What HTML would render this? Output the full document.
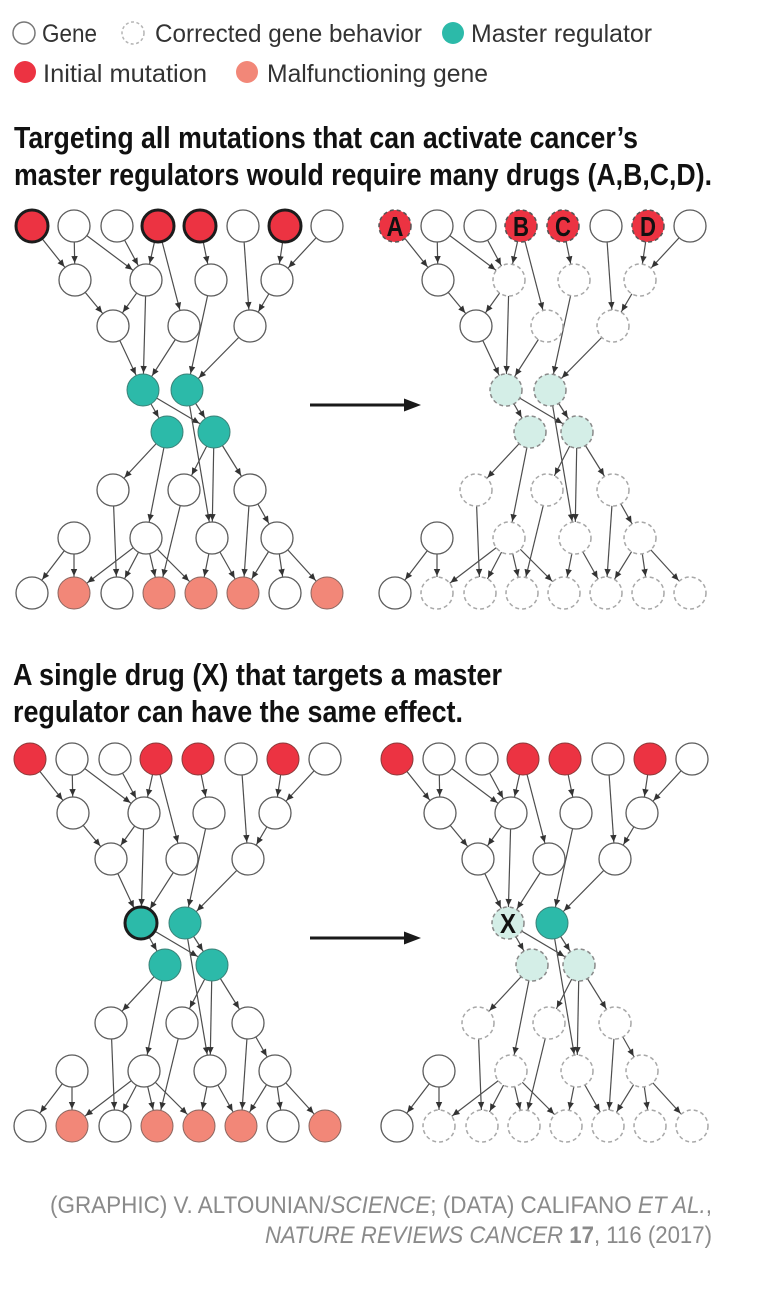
<!DOCTYPE html>
<html><head><meta charset="utf-8"><style>
html,body{margin:0;padding:0;background:#fff}
svg{display:block}
.w{fill:#fff;stroke:#5c5c5c;stroke-width:1.3}
.r{fill:#ec3342;stroke:#1c1c1c;stroke-width:3}
.r2{fill:#ec3342;stroke:#8a3a3a;stroke-width:1}
.t{fill:#2cbaa9;stroke:#3b8177;stroke-width:1}
.tk{fill:#2cbaa9;stroke:#1c1c1c;stroke-width:3}
.s{fill:#f28778;stroke:#8a6660;stroke-width:1}
.d{fill:#fff;stroke:#a8a8a8;stroke-width:1.5;stroke-dasharray:4 3}
.dr{fill:#ec3342;stroke:#555;stroke-width:1.5;stroke-dasharray:4 3}
.dt{fill:#d4eee7;stroke:#8a8a8a;stroke-width:1.5;stroke-dasharray:4 3}
.e line{stroke:#4d4d4d;stroke-width:1.2;marker-end:url(#ah)}
.lg{font-family:"Liberation Sans",sans-serif;font-size:25px;fill:#333}
.ti{font-family:"Liberation Sans",sans-serif;font-size:31px;font-weight:bold;fill:#111}
.ft{font-family:"Liberation Sans",sans-serif;font-size:24px;fill:#8a8a8a}
.lb{font-family:"Liberation Sans",sans-serif;font-size:28px;font-weight:bold;fill:#111}
</style></head><body>
<svg width="761" height="1291" viewBox="0 0 761 1291" xmlns="http://www.w3.org/2000/svg">
<defs>
<marker id="ah" viewBox="-30 -10 60 20" refX="0" refY="0" markerWidth="60" markerHeight="20" markerUnits="userSpaceOnUse" orient="auto"><path d="M-17,0 L-24,-3.2 L-24,3.2 Z" fill="#333"/></marker>
<g id="edges" class="e">
<line x1="32" y1="226" x2="75" y2="280"/>
<line x1="74" y1="226" x2="75" y2="280"/>
<line x1="74" y1="226" x2="146" y2="280"/>
<line x1="117" y1="226" x2="146" y2="280"/>
<line x1="158" y1="226" x2="146" y2="280"/>
<line x1="158" y1="226" x2="184" y2="326"/>
<line x1="200" y1="226" x2="211" y2="280"/>
<line x1="243" y1="226" x2="250" y2="326"/>
<line x1="285" y1="226" x2="277" y2="280"/>
<line x1="327" y1="226" x2="277" y2="280"/>
<line x1="75" y1="280" x2="113" y2="326"/>
<line x1="146" y1="280" x2="113" y2="326"/>
<line x1="146" y1="280" x2="143" y2="390"/>
<line x1="211" y1="280" x2="187" y2="390"/>
<line x1="277" y1="280" x2="250" y2="326"/>
<line x1="113" y1="326" x2="143" y2="390"/>
<line x1="184" y1="326" x2="143" y2="390"/>
<line x1="250" y1="326" x2="187" y2="390"/>
<line x1="143" y1="390" x2="167" y2="432"/>
<line x1="143" y1="390" x2="214" y2="432"/>
<line x1="187" y1="390" x2="214" y2="432"/>
<line x1="187" y1="390" x2="212" y2="538"/>
<line x1="167" y1="432" x2="113" y2="490"/>
<line x1="167" y1="432" x2="146" y2="538"/>
<line x1="214" y1="432" x2="184" y2="490"/>
<line x1="214" y1="432" x2="212" y2="538"/>
<line x1="214" y1="432" x2="250" y2="490"/>
<line x1="113" y1="490" x2="117" y2="593"/>
<line x1="184" y1="490" x2="159" y2="593"/>
<line x1="250" y1="490" x2="277" y2="538"/>
<line x1="250" y1="490" x2="243" y2="593"/>
<line x1="74" y1="538" x2="32" y2="593"/>
<line x1="74" y1="538" x2="74" y2="593"/>
<line x1="146" y1="538" x2="74" y2="593"/>
<line x1="146" y1="538" x2="117" y2="593"/>
<line x1="146" y1="538" x2="159" y2="593"/>
<line x1="146" y1="538" x2="201" y2="593"/>
<line x1="212" y1="538" x2="201" y2="593"/>
<line x1="212" y1="538" x2="243" y2="593"/>
<line x1="277" y1="538" x2="243" y2="593"/>
<line x1="277" y1="538" x2="285" y2="593"/>
<line x1="277" y1="538" x2="327" y2="593"/>
</g>
</defs>

<!-- Legend -->
<circle cx="24" cy="33" r="11" fill="#fff" stroke="#777" stroke-width="1.5"/>
<text class="lg" x="42" y="42" textLength="55" lengthAdjust="spacingAndGlyphs">Gene</text>
<circle cx="133" cy="33" r="11" fill="#fff" stroke="#b5b5b5" stroke-width="1.5" stroke-dasharray="3 2.5"/>
<text class="lg" x="155" y="42" textLength="267" lengthAdjust="spacingAndGlyphs">Corrected gene behavior</text>
<circle cx="453" cy="33" r="11" fill="#2cbaa9"/>
<text class="lg" x="471" y="42" textLength="181" lengthAdjust="spacingAndGlyphs">Master regulator</text>
<circle cx="25" cy="72" r="11" fill="#ec3342"/>
<text class="lg" x="43" y="82" textLength="164" lengthAdjust="spacingAndGlyphs">Initial mutation</text>
<circle cx="247" cy="72" r="11" fill="#f28778"/>
<text class="lg" x="267" y="82" textLength="221" lengthAdjust="spacingAndGlyphs">Malfunctioning gene</text>

<!-- Title 1 -->
<text class="ti" x="14" y="148" textLength="624" lengthAdjust="spacingAndGlyphs">Targeting all mutations that can activate cancer’s</text>
<text class="ti" x="14" y="185" textLength="698" lengthAdjust="spacingAndGlyphs">master regulators would require many drugs (A,B,C,D).</text>

<!-- Title 2 -->
<text class="ti" x="13" y="685" textLength="489" lengthAdjust="spacingAndGlyphs">A single drug (X) that targets a master</text>
<text class="ti" x="13" y="722" textLength="450" lengthAdjust="spacingAndGlyphs">regulator can have the same effect.</text>

<!-- edges -->
<use href="#edges" transform="translate(0,0)"/>
<use href="#edges" transform="translate(363,0)"/>
<use href="#edges" transform="translate(-2,533)"/>
<use href="#edges" transform="translate(365,533)"/>

<!-- Panel TL -->
<g transform="translate(0,0)">
<circle class="r" cx="32" cy="226" r="16"/><circle class="w" cx="74" cy="226" r="16"/><circle class="w" cx="117" cy="226" r="16"/><circle class="r" cx="158" cy="226" r="16"/><circle class="r" cx="200" cy="226" r="16"/><circle class="w" cx="243" cy="226" r="16"/><circle class="r" cx="285" cy="226" r="16"/><circle class="w" cx="327" cy="226" r="16"/>
<circle class="w" cx="75" cy="280" r="16"/><circle class="w" cx="146" cy="280" r="16"/><circle class="w" cx="211" cy="280" r="16"/><circle class="w" cx="277" cy="280" r="16"/>
<circle class="w" cx="113" cy="326" r="16"/><circle class="w" cx="184" cy="326" r="16"/><circle class="w" cx="250" cy="326" r="16"/>
<circle class="t" cx="143" cy="390" r="16"/><circle class="t" cx="187" cy="390" r="16"/>
<circle class="t" cx="167" cy="432" r="16"/><circle class="t" cx="214" cy="432" r="16"/>
<circle class="w" cx="113" cy="490" r="16"/><circle class="w" cx="184" cy="490" r="16"/><circle class="w" cx="250" cy="490" r="16"/>
<circle class="w" cx="74" cy="538" r="16"/><circle class="w" cx="146" cy="538" r="16"/><circle class="w" cx="212" cy="538" r="16"/><circle class="w" cx="277" cy="538" r="16"/>
<circle class="w" cx="32" cy="593" r="16"/><circle class="s" cx="74" cy="593" r="16"/><circle class="w" cx="117" cy="593" r="16"/><circle class="s" cx="159" cy="593" r="16"/><circle class="s" cx="201" cy="593" r="16"/><circle class="s" cx="243" cy="593" r="16"/><circle class="w" cx="285" cy="593" r="16"/><circle class="s" cx="327" cy="593" r="16"/>
</g>

<!-- Panel TR -->
<g transform="translate(363,0)">
<circle class="dr" cx="32" cy="226" r="16"/><circle class="w" cx="74" cy="226" r="16"/><circle class="w" cx="117" cy="226" r="16"/><circle class="dr" cx="158" cy="226" r="16"/><circle class="dr" cx="200" cy="226" r="16"/><circle class="w" cx="243" cy="226" r="16"/><circle class="dr" cx="285" cy="226" r="16"/><circle class="w" cx="327" cy="226" r="16"/>
<circle class="w" cx="75" cy="280" r="16"/><circle class="d" cx="146" cy="280" r="16"/><circle class="d" cx="211" cy="280" r="16"/><circle class="d" cx="277" cy="280" r="16"/>
<circle class="w" cx="113" cy="326" r="16"/><circle class="d" cx="184" cy="326" r="16"/><circle class="d" cx="250" cy="326" r="16"/>
<circle class="dt" cx="143" cy="390" r="16"/><circle class="dt" cx="187" cy="390" r="16"/>
<circle class="dt" cx="167" cy="432" r="16"/><circle class="dt" cx="214" cy="432" r="16"/>
<circle class="d" cx="113" cy="490" r="16"/><circle class="d" cx="184" cy="490" r="16"/><circle class="d" cx="250" cy="490" r="16"/>
<circle class="w" cx="74" cy="538" r="16"/><circle class="d" cx="146" cy="538" r="16"/><circle class="d" cx="212" cy="538" r="16"/><circle class="d" cx="277" cy="538" r="16"/>
<circle class="w" cx="32" cy="593" r="16"/><circle class="d" cx="74" cy="593" r="16"/><circle class="d" cx="117" cy="593" r="16"/><circle class="d" cx="159" cy="593" r="16"/><circle class="d" cx="201" cy="593" r="16"/><circle class="d" cx="243" cy="593" r="16"/><circle class="d" cx="285" cy="593" r="16"/><circle class="d" cx="327" cy="593" r="16"/>
<text class="lb" x="32" y="236" text-anchor="middle" textLength="17" lengthAdjust="spacingAndGlyphs">A</text>
<text class="lb" x="158" y="236" text-anchor="middle" textLength="16" lengthAdjust="spacingAndGlyphs">B</text>
<text class="lb" x="200" y="236" text-anchor="middle" textLength="16" lengthAdjust="spacingAndGlyphs">C</text>
<text class="lb" x="285" y="236" text-anchor="middle" textLength="16" lengthAdjust="spacingAndGlyphs">D</text>
</g>

<!-- Panel BL -->
<g transform="translate(-2,533)">
<circle class="r2" cx="32" cy="226" r="16"/><circle class="w" cx="74" cy="226" r="16"/><circle class="w" cx="117" cy="226" r="16"/><circle class="r2" cx="158" cy="226" r="16"/><circle class="r2" cx="200" cy="226" r="16"/><circle class="w" cx="243" cy="226" r="16"/><circle class="r2" cx="285" cy="226" r="16"/><circle class="w" cx="327" cy="226" r="16"/>
<circle class="w" cx="75" cy="280" r="16"/><circle class="w" cx="146" cy="280" r="16"/><circle class="w" cx="211" cy="280" r="16"/><circle class="w" cx="277" cy="280" r="16"/>
<circle class="w" cx="113" cy="326" r="16"/><circle class="w" cx="184" cy="326" r="16"/><circle class="w" cx="250" cy="326" r="16"/>
<circle class="tk" cx="143" cy="390" r="16"/><circle class="t" cx="187" cy="390" r="16"/>
<circle class="t" cx="167" cy="432" r="16"/><circle class="t" cx="214" cy="432" r="16"/>
<circle class="w" cx="113" cy="490" r="16"/><circle class="w" cx="184" cy="490" r="16"/><circle class="w" cx="250" cy="490" r="16"/>
<circle class="w" cx="74" cy="538" r="16"/><circle class="w" cx="146" cy="538" r="16"/><circle class="w" cx="212" cy="538" r="16"/><circle class="w" cx="277" cy="538" r="16"/>
<circle class="w" cx="32" cy="593" r="16"/><circle class="s" cx="74" cy="593" r="16"/><circle class="w" cx="117" cy="593" r="16"/><circle class="s" cx="159" cy="593" r="16"/><circle class="s" cx="201" cy="593" r="16"/><circle class="s" cx="243" cy="593" r="16"/><circle class="w" cx="285" cy="593" r="16"/><circle class="s" cx="327" cy="593" r="16"/>
</g>

<!-- Panel BR -->
<g transform="translate(365,533)">
<circle class="r2" cx="32" cy="226" r="16"/><circle class="w" cx="74" cy="226" r="16"/><circle class="w" cx="117" cy="226" r="16"/><circle class="r2" cx="158" cy="226" r="16"/><circle class="r2" cx="200" cy="226" r="16"/><circle class="w" cx="243" cy="226" r="16"/><circle class="r2" cx="285" cy="226" r="16"/><circle class="w" cx="327" cy="226" r="16"/>
<circle class="w" cx="75" cy="280" r="16"/><circle class="w" cx="146" cy="280" r="16"/><circle class="w" cx="211" cy="280" r="16"/><circle class="w" cx="277" cy="280" r="16"/>
<circle class="w" cx="113" cy="326" r="16"/><circle class="w" cx="184" cy="326" r="16"/><circle class="w" cx="250" cy="326" r="16"/>
<circle class="dt" cx="143" cy="390" r="16"/><circle class="t" cx="187" cy="390" r="16"/>
<circle class="dt" cx="167" cy="432" r="16"/><circle class="dt" cx="214" cy="432" r="16"/>
<circle class="d" cx="113" cy="490" r="16"/><circle class="d" cx="184" cy="490" r="16"/><circle class="d" cx="250" cy="490" r="16"/>
<circle class="w" cx="74" cy="538" r="16"/><circle class="d" cx="146" cy="538" r="16"/><circle class="d" cx="212" cy="538" r="16"/><circle class="d" cx="277" cy="538" r="16"/>
<circle class="w" cx="32" cy="593" r="16"/><circle class="d" cx="74" cy="593" r="16"/><circle class="d" cx="117" cy="593" r="16"/><circle class="d" cx="159" cy="593" r="16"/><circle class="d" cx="201" cy="593" r="16"/><circle class="d" cx="243" cy="593" r="16"/><circle class="d" cx="285" cy="593" r="16"/><circle class="d" cx="327" cy="593" r="16"/>
<text class="lb" x="143" y="400" text-anchor="middle" textLength="16" lengthAdjust="spacingAndGlyphs">X</text>
</g>

<!-- Big arrows -->
<line x1="310" y1="405" x2="408" y2="405" stroke="#1a1a1a" stroke-width="3"/>
<polygon points="404,398.5 421,405 404,411.5" fill="#1a1a1a"/>
<line x1="310" y1="938" x2="408" y2="938" stroke="#1a1a1a" stroke-width="3"/>
<polygon points="404,931.5 421,938 404,944.5" fill="#1a1a1a"/>

<!-- Footer -->
<text class="ft" x="50" y="1213" textLength="662" lengthAdjust="spacingAndGlyphs">(GRAPHIC) V. ALTOUNIAN/<tspan font-style="italic">SCIENCE</tspan>; (DATA) CALIFANO <tspan font-style="italic">ET AL.</tspan>,</text>
<text class="ft" x="265" y="1243" textLength="447" lengthAdjust="spacingAndGlyphs"><tspan font-style="italic">NATURE REVIEWS CANCER</tspan> <tspan font-weight="bold">17</tspan>, 116 (2017)</text>
</svg>
</body></html>
